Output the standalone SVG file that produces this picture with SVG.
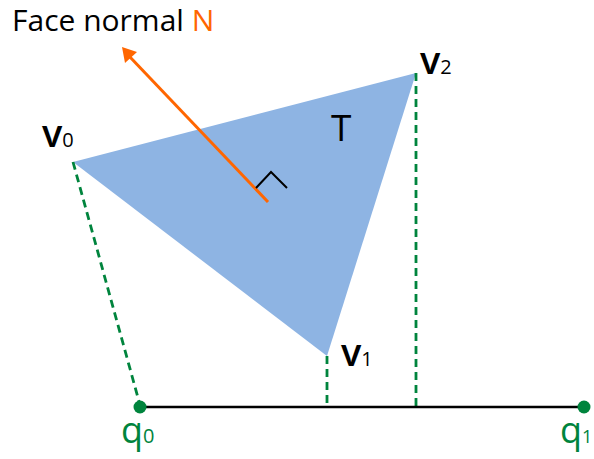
<svg xmlns="http://www.w3.org/2000/svg" width="594" height="459" viewBox="0 0 594 459">
<style>
.lbl{font-family:"Open Sans","Noto Sans",sans-serif;fill:#000}
.dash{stroke:#00843D;stroke-width:2.8;stroke-dasharray:8,5;fill:none}
.q{font-family:"Open Sans","Noto Sans",sans-serif;fill:#00843D}
</style>
<rect width="594" height="459" fill="#fff"/>
<g id="triangle">
<polygon points="73,162 416,73 327,356" fill="#8EB4E3"/>
<text class="lbl" x="331" y="141" font-size="37">T</text>
</g>
<g id="connectors">
<line class="dash" x1="73" y1="162" x2="140" y2="405"/>
<line class="dash" x1="327" y1="356" x2="327" y2="407"/>
<line class="dash" x1="416" y1="73" x2="416" y2="407"/>
<line x1="140" y1="407" x2="584" y2="407" stroke="#000" stroke-width="2.5"/>
<line x1="268" y1="202" x2="129" y2="56" stroke="#FF6600" stroke-width="3"/>
<polygon points="122,47 125,63 137,52" fill="#FF6600"/>
<polyline points="256,188 271,172 287,188" fill="none" stroke="#000" stroke-width="2"/>
</g>
<g id="title">
<text class="lbl" x="12" y="31" font-size="30">Face normal <tspan fill="#FF6600">N</tspan></text>
</g>
<g id="v0"><text class="lbl" x="42" y="147" font-size="38" font-weight="600">v<tspan font-size="20" font-weight="400">0</tspan></text></g>
<g id="v1"><text class="lbl" x="341" y="366" font-size="38" font-weight="600">v<tspan font-size="20" font-weight="400">1</tspan></text></g>
<g id="v2"><text class="lbl" x="420" y="74" font-size="38" font-weight="600">v<tspan font-size="20" font-weight="400">2</tspan></text></g>
<g id="q0">
<circle cx="140" cy="407" r="6.5" fill="#00843D"/>
<text class="q" x="121" y="443" font-size="36">q<tspan font-size="20">0</tspan></text>
</g>
<g id="q1">
<circle cx="584" cy="407" r="6.5" fill="#00843D"/>
<text class="q" x="560" y="443" font-size="36">q<tspan font-size="18">1</tspan></text>
</g>
</svg>
